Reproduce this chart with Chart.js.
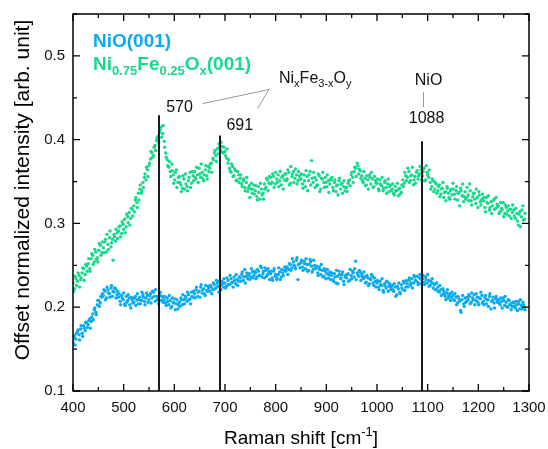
<!DOCTYPE html>
<html>
<head>
<meta charset="utf-8">
<script src="https://cdn.jsdelivr.net/npm/chart.js@4"></script>
<style>
  html, body { margin: 0; padding: 0; background: #fff; }
  #chart { display: block; }
</style>
</head>
<body>
<canvas id="chart" width="548" height="449"></canvas>
<script>
// Raman shift grids (cm-1), two interleaved readings of each spectrum
const ramanShiftA = [
  400,403,406,409,412,415,418,421,424,427,
  430,433,436,439,442,445,448,451,454,457,
  460,463,466,469,472,475,478,481,484,487,
  490,493,496,499,502,505,508,511,514,517,
  520,523,526,529,532,535,538,541,544,547,
  550,553,556,559,562,565,568,571,574,577,
  580,583,586,589,592,595,598,601,604,607,
  610,613,616,619,622,625,628,631,634,637,
  640,643,646,649,652,655,658,661,664,667,
  670,673,676,679,682,685,688,691,694,697,
  700,703,706,709,712,715,718,721,724,727,
  730,733,736,739,742,745,748,751,754,757,
  760,763,766,769,772,775,778,781,784,787,
  790,793,796,799,802,805,808,811,814,817,
  820,823,826,829,832,835,838,841,844,847,
  850,853,856,859,862,865,868,871,874,877,
  880,883,886,889,892,895,898,901,904,907,
  910,913,916,919,922,925,928,931,934,937,
  940,943,946,949,952,955,958,961,964,967,
  970,973,976,979,982,985,988,991,994,997,
  1000,1003,1006,1009,1012,1015,1018,1021,1024,1027,
  1030,1033,1036,1039,1042,1045,1048,1051,1054,1057,
  1060,1063,1066,1069,1072,1075,1078,1081,1084,1087,
  1090,1093,1096,1099,1102,1105,1108,1111,1114,1117,
  1120,1123,1126,1129,1132,1135,1138,1141,1144,1147,
  1150,1153,1156,1159,1162,1165,1168,1171,1174,1177,
  1180,1183,1186,1189,1192,1195,1198,1201,1204,1207,
  1210,1213,1216,1219,1222,1225,1228,1231,1234,1237,
  1240,1243,1246,1249,1252,1255,1258,1261,1264,1267,
  1270,1273,1276,1279,1282,1285,1288,1291
];
const ramanShiftB = [
  401,404,407,410,413,416,419,422,425,428,
  431,434,437,440,443,446,449,452,455,458,
  461,464,467,470,473,476,479,482,485,488,
  491,494,497,500,503,506,509,512,515,518,
  521,524,527,530,533,536,539,542,545,548,
  551,554,557,560,563,566,569,572,575,578,
  581,584,587,590,593,596,599,602,605,608,
  611,614,617,620,623,626,629,632,635,638,
  641,644,647,650,653,656,659,662,665,668,
  671,674,677,680,683,686,689,692,695,698,
  701,704,707,710,713,716,719,722,725,728,
  731,734,737,740,743,746,749,752,755,758,
  761,764,767,770,773,776,779,782,785,788,
  791,794,797,800,803,806,809,812,815,818,
  821,824,827,830,833,836,839,842,845,848,
  851,854,857,860,863,866,869,872,875,878,
  881,884,887,890,893,896,899,902,905,908,
  911,914,917,920,923,926,929,932,935,938,
  941,944,947,950,953,956,959,962,965,968,
  971,974,977,980,983,986,989,992,995,998,
  1001,1004,1007,1010,1013,1016,1019,1022,1025,1028,
  1031,1034,1037,1040,1043,1046,1049,1052,1055,1058,
  1061,1064,1067,1070,1073,1076,1079,1082,1085,1088,
  1091,1094,1097,1100,1103,1106,1109,1112,1115,1118,
  1121,1124,1127,1130,1133,1136,1139,1142,1145,1148,
  1151,1154,1157,1160,1163,1166,1169,1172,1175,1178,
  1181,1184,1187,1190,1193,1196,1199,1202,1205,1208,
  1211,1214,1217,1220,1223,1226,1229,1232,1235,1238,
  1241,1244,1247,1250,1253,1256,1259,1262,1265,1268,
  1271,1274,1277,1280,1283,1286,1289,1292
];

// NiO(001), offset normalized intensity
const nioValuesA = [
  0.158,0.166,0.162,0.171,0.167,0.174,0.169,0.178,0.172,0.181,
  0.179,0.186,0.183,0.192,0.197,0.194,0.203,0.208,0.205,0.212,
  0.214,0.219,0.211,0.221,0.216,0.223,0.213,0.218,0.222,0.215,
  0.212,0.207,0.214,0.209,0.204,0.213,0.208,0.211,0.199,0.209,
  0.206,0.213,0.209,0.204,0.212,0.208,0.215,0.207,0.211,0.214,
  0.209,0.216,0.211,0.218,0.207,0.213,0.210,0.215,0.208,0.212,
  0.209,0.205,0.211,0.203,0.208,0.201,0.206,0.210,0.204,0.198,
  0.206,0.211,0.203,0.209,0.213,0.207,0.215,0.210,0.218,0.212,
  0.216,0.221,0.213,0.219,0.224,0.217,0.222,0.214,0.220,0.225,
  0.219,0.224,0.221,0.227,0.223,0.229,0.218,0.226,0.231,0.224,
  0.229,0.225,0.232,0.227,0.234,0.230,0.236,0.228,0.233,0.231,
  0.235,0.239,0.232,0.245,0.237,0.234,0.240,0.236,0.242,0.238,
  0.241,0.236,0.243,0.238,0.247,0.240,0.235,0.244,0.239,0.242,
  0.240,0.235,0.243,0.237,0.233,0.239,0.242,0.236,0.241,0.244,
  0.243,0.248,0.245,0.251,0.247,0.254,0.249,0.256,0.233,0.252,
  0.253,0.248,0.255,0.246,0.251,0.244,0.257,0.249,0.245,0.250,
  0.246,0.241,0.248,0.239,0.244,0.237,0.243,0.240,0.235,0.242,
  0.238,0.233,0.240,0.229,0.237,0.243,0.234,0.239,0.231,0.236,
  0.235,0.240,0.232,0.238,0.243,0.236,0.255,0.241,0.237,0.242,
  0.239,0.234,0.236,0.230,0.235,0.228,0.233,0.237,0.226,0.231,
  0.229,0.224,0.231,0.226,0.220,0.228,0.223,0.230,0.225,0.221,
  0.226,0.219,0.224,0.215,0.222,0.218,0.227,0.221,0.229,0.224,
  0.228,0.232,0.226,0.234,0.229,0.236,0.231,0.227,0.235,0.233,
  0.234,0.230,0.236,0.229,0.232,0.226,0.229,0.223,0.227,0.221,
  0.224,0.218,0.221,0.215,0.219,0.213,0.217,0.211,0.216,0.212,
  0.214,0.208,0.212,0.205,0.210,0.196,0.209,0.204,0.211,0.207,
  0.209,0.213,0.206,0.211,0.215,0.208,0.212,0.203,0.210,0.214,
  0.207,0.211,0.204,0.209,0.213,0.198,0.208,0.205,0.210,0.206,
  0.209,0.203,0.207,0.211,0.202,0.206,0.200,0.208,0.204,0.201,
  0.205,0.199,0.203,0.207,0.198,0.202,0.206,0.200
];
const nioValuesB = [
  0.163,0.155,0.169,0.173,0.161,0.178,0.165,0.175,0.182,0.176,
  0.184,0.175,0.188,0.185,0.199,0.191,0.208,0.201,0.213,0.216,
  0.221,0.209,0.224,0.217,0.212,0.226,0.219,0.223,0.211,0.219,
  0.216,0.203,0.211,0.217,0.202,0.206,0.215,0.203,0.212,0.205,
  0.211,0.202,0.216,0.209,0.204,0.218,0.212,0.203,0.217,0.206,
  0.214,0.205,0.219,0.213,0.221,0.209,0.204,0.218,0.213,0.206,
  0.213,0.202,0.207,0.214,0.199,0.211,0.205,0.197,0.209,0.203,
  0.201,0.209,0.215,0.204,0.211,0.218,0.209,0.204,0.213,0.219,
  0.211,0.224,0.218,0.212,0.227,0.221,0.216,0.226,0.219,0.223,
  0.226,0.216,0.229,0.222,0.232,0.225,0.231,0.221,0.228,0.234,
  0.223,0.235,0.227,0.238,0.229,0.224,0.232,0.239,0.226,0.236,
  0.231,0.242,0.236,0.229,0.241,0.238,0.233,0.246,0.235,0.243,
  0.234,0.245,0.238,0.249,0.236,0.243,0.247,0.237,0.246,0.233,
  0.243,0.232,0.246,0.239,0.235,0.247,0.233,0.245,0.238,0.248,
  0.246,0.239,0.252,0.244,0.258,0.250,0.246,0.259,0.251,0.247,
  0.256,0.244,0.252,0.258,0.243,0.251,0.254,0.242,0.256,0.247,
  0.249,0.238,0.245,0.251,0.236,0.246,0.234,0.245,0.239,0.233,
  0.241,0.231,0.236,0.244,0.228,0.239,0.235,0.242,0.227,0.238,
  0.239,0.231,0.245,0.234,0.241,0.246,0.233,0.239,0.244,0.232,
  0.236,0.242,0.229,0.238,0.226,0.234,0.239,0.229,0.235,0.224,
  0.232,0.221,0.227,0.234,0.218,0.226,0.231,0.219,0.228,0.224,
  0.221,0.228,0.213,0.225,0.229,0.216,0.223,0.231,0.220,0.232,
  0.224,0.235,0.229,0.223,0.238,0.232,0.237,0.229,0.239,0.228,
  0.238,0.227,0.233,0.239,0.225,0.231,0.234,0.228,0.221,0.229,
  0.219,0.226,0.214,0.222,0.216,0.209,0.221,0.214,0.208,0.218,
  0.209,0.216,0.203,0.213,0.207,0.194,0.214,0.201,0.206,0.212,
  0.215,0.204,0.217,0.209,0.203,0.216,0.206,0.211,0.218,0.205,
  0.203,0.214,0.209,0.201,0.216,0.207,0.212,0.199,0.213,0.209,
  0.205,0.211,0.199,0.208,0.213,0.201,0.209,0.203,0.197,0.206,
  0.201,0.207,0.196,0.204,0.209,0.198,0.203,0.197
];

// Ni0.75Fe0.25Ox(001), offset normalized intensity
const nifeValuesA = [
  0.229,0.222,0.234,0.231,0.238,0.233,0.241,0.246,0.239,0.249,
  0.252,0.246,0.258,0.262,0.254,0.266,0.259,0.268,0.274,0.265,
  0.271,0.278,0.266,0.275,0.283,0.272,0.281,0.287,0.279,0.289,
  0.291,0.297,0.288,0.299,0.305,0.296,0.308,0.313,0.306,0.317,
  0.321,0.328,0.325,0.336,0.341,0.336,0.349,0.355,0.352,0.364,
  0.369,0.377,0.384,0.381,0.393,0.399,0.404,0.409,0.415,0.407,
  0.398,0.384,0.376,0.367,0.362,0.371,0.358,0.352,0.364,0.349,
  0.356,0.346,0.342,0.353,0.359,0.344,0.351,0.361,0.348,0.357,
  0.362,0.353,0.358,0.366,0.355,0.361,0.351,0.364,0.357,0.368,
  0.366,0.372,0.378,0.384,0.381,0.389,0.395,0.388,0.392,0.384,
  0.386,0.378,0.372,0.366,0.361,0.368,0.357,0.363,0.352,0.358,
  0.354,0.347,0.351,0.343,0.349,0.338,0.345,0.341,0.336,0.346,
  0.339,0.332,0.344,0.329,0.341,0.336,0.347,0.343,0.352,0.348,
  0.355,0.349,0.356,0.347,0.353,0.358,0.351,0.346,0.357,0.352,
  0.359,0.353,0.361,0.348,0.356,0.362,0.354,0.358,0.351,0.357,
  0.353,0.347,0.358,0.344,0.356,0.351,0.362,0.375,0.349,0.355,
  0.352,0.346,0.357,0.341,0.353,0.349,0.355,0.344,0.351,0.347,
  0.352,0.343,0.349,0.338,0.346,0.351,0.341,0.348,0.344,0.339,
  0.343,0.348,0.352,0.358,0.355,0.362,0.366,0.372,0.359,0.363,
  0.357,0.349,0.354,0.346,0.352,0.358,0.347,0.353,0.344,0.351,
  0.348,0.341,0.352,0.345,0.339,0.349,0.343,0.347,0.338,0.346,
  0.341,0.336,0.344,0.339,0.333,0.342,0.337,0.352,0.348,0.357,
  0.355,0.362,0.351,0.358,0.346,0.356,0.361,0.353,0.359,0.364,
  0.357,0.366,0.352,0.361,0.355,0.349,0.344,0.351,0.341,0.347,
  0.339,0.346,0.335,0.342,0.331,0.338,0.344,0.336,0.329,0.341,
  0.348,0.335,0.339,0.328,0.337,0.342,0.333,0.326,0.338,0.331,
  0.334,0.347,0.327,0.332,0.336,0.324,0.331,0.338,0.326,0.329,
  0.327,0.319,0.331,0.324,0.316,0.326,0.321,0.329,0.318,0.323,
  0.321,0.314,0.318,0.325,0.312,0.319,0.315,0.309,0.317,0.313,
  0.316,0.306,0.312,0.298,0.314,0.308,0.321,0.305
];
const nifeValuesB = [
  0.219,0.237,0.226,0.241,0.224,0.235,0.247,0.232,0.251,0.243,
  0.258,0.243,0.264,0.251,0.269,0.257,0.254,0.276,0.262,0.278,
  0.265,0.281,0.287,0.269,0.291,0.277,0.256,0.284,0.293,0.282,
  0.296,0.284,0.302,0.293,0.289,0.311,0.301,0.298,0.318,0.309,
  0.314,0.331,0.319,0.328,0.346,0.339,0.343,0.359,0.367,0.356,
  0.372,0.386,0.379,0.391,0.387,0.402,0.397,0.412,0.403,0.417,
  0.391,0.379,0.369,0.374,0.356,0.363,0.348,0.361,0.343,0.355,
  0.349,0.338,0.357,0.341,0.347,0.339,0.355,0.343,0.362,0.351,
  0.355,0.367,0.349,0.359,0.371,0.354,0.358,0.369,0.353,0.362,
  0.371,0.361,0.376,0.387,0.374,0.383,0.391,0.397,0.385,0.391,
  0.381,0.389,0.376,0.363,0.371,0.356,0.365,0.351,0.362,0.349,
  0.358,0.344,0.353,0.339,0.355,0.342,0.331,0.348,0.341,0.335,
  0.345,0.328,0.337,0.348,0.334,0.329,0.341,0.354,0.339,0.356,
  0.347,0.359,0.343,0.361,0.349,0.344,0.362,0.355,0.341,0.359,
  0.351,0.364,0.346,0.368,0.359,0.349,0.365,0.347,0.362,0.353,
  0.359,0.342,0.351,0.363,0.339,0.358,0.346,0.354,0.361,0.343,
  0.345,0.359,0.338,0.354,0.361,0.343,0.349,0.358,0.337,0.353,
  0.355,0.339,0.352,0.345,0.334,0.354,0.347,0.336,0.351,0.343,
  0.338,0.351,0.345,0.361,0.349,0.367,0.356,0.369,0.365,0.354,
  0.351,0.362,0.345,0.357,0.341,0.355,0.361,0.343,0.356,0.348,
  0.353,0.339,0.347,0.355,0.342,0.351,0.336,0.353,0.344,0.339,
  0.347,0.334,0.339,0.348,0.341,0.335,0.346,0.344,0.361,0.351,
  0.366,0.349,0.357,0.367,0.352,0.348,0.363,0.357,0.368,0.352,
  0.362,0.351,0.369,0.358,0.364,0.341,0.353,0.338,0.349,0.336,
  0.344,0.332,0.341,0.349,0.337,0.327,0.342,0.331,0.339,0.334,
  0.341,0.329,0.344,0.336,0.321,0.339,0.347,0.332,0.329,0.343,
  0.327,0.339,0.322,0.336,0.329,0.341,0.319,0.334,0.322,0.335,
  0.331,0.314,0.325,0.333,0.319,0.312,0.327,0.317,0.331,0.320,
  0.312,0.325,0.316,0.308,0.322,0.311,0.321,0.317,0.306,0.322,
  0.309,0.318,0.303,0.311,0.296,0.316,0.304,0.312
];

// marker lines and their upper ends
const peakPositions = [570, 691, 1088];
const peakTops = [0.429, 0.405, 0.398];
const peakLabels = ['570', '691', '1088'];

const xTicks = [400, 500, 600, 700, 800, 900, 1000, 1100, 1200, 1300];
const xMinorTicks = [450, 550, 650, 750, 850, 950, 1050, 1150, 1250];
const yTicks = [0.1, 0.2, 0.3, 0.4, 0.5];
const yMinorTicks = [0.15, 0.25, 0.35, 0.45, 0.55];

const BLUE = '#0aaaf0';
const GREEN = '#16d98a';
const FONT = "'Liberation Sans', Arial, sans-serif";

function toPoints(xa, ya, xb, yb) {
    const pts = ya.map((y, i) => ({ x: xa[i], y: y }));
    yb.forEach((y, i) => pts.push({ x: xb[i], y: y }));
    return pts;
}

// draws text runs, some as subscripts / superscripts
function drawRuns(ctx, runs, x, y, size, weight, color) {
    ctx.fillStyle = color;
    ctx.textBaseline = 'alphabetic';
    ctx.textAlign = 'left';
    let cx = x;
    runs.forEach(r => {
        const s = r.sub || r.sup ? Math.round(size * 0.68) : size;
        ctx.font = `${weight} ${s}px ${FONT}`;
        const dy = r.sub ? size * 0.28 : (r.sup ? -size * 0.42 : 0);
        ctx.fillText(r.t, cx, y + dy);
        cx += ctx.measureText(r.t).width;
    });
    return cx - x;
}

function runsWidth(ctx, runs, size, weight) {
    let w = 0;
    runs.forEach(r => {
        const s = r.sub || r.sup ? Math.round(size * 0.68) : size;
        ctx.font = `${weight} ${s}px ${FONT}`;
        w += ctx.measureText(r.t).width;
    });
    return w;
}

const framePlugin = {
    id: 'frame',
    afterDatasetsDraw(chart) {
        const { ctx, chartArea: a, scales: { x, y } } = chart;
        ctx.save();

        // reference lines
        ctx.strokeStyle = '#1a1a1a';
        ctx.lineWidth = 2;
        peakPositions.forEach((p, i) => {
            const px = Math.round(x.getPixelForValue(p));
            ctx.beginPath();
            ctx.moveTo(px, y.getPixelForValue(peakTops[i]));
            ctx.lineTo(px, a.bottom);
            ctx.stroke();
        });

        // frame
        ctx.strokeStyle = '#000';
        ctx.lineWidth = 1.5;
        ctx.strokeRect(a.left, a.top, a.right - a.left, a.bottom - a.top);

        // inward ticks on all four sides
        ctx.lineWidth = 1.3;
        const tick = (vals, len) => {
            vals.forEach(v => {
                const px = x.getPixelForValue(v);
                ctx.beginPath();
                ctx.moveTo(px, a.bottom); ctx.lineTo(px, a.bottom - len);
                ctx.moveTo(px, a.top); ctx.lineTo(px, a.top + len);
                ctx.stroke();
            });
        };
        const ytick = (vals, len) => {
            vals.forEach(v => {
                const py = y.getPixelForValue(v);
                ctx.beginPath();
                ctx.moveTo(a.left, py); ctx.lineTo(a.left + len, py);
                ctx.moveTo(a.right, py); ctx.lineTo(a.right - len, py);
                ctx.stroke();
            });
        };
        tick(xTicks, 7);
        tick(xMinorTicks, 4);
        ytick(yTicks, 7);
        ytick(yMinorTicks, 4);

        // axis titles
        ctx.fillStyle = '#000';
        const xt = [{ t: 'Raman shift [cm' }, { t: '-1', sup: true }, { t: ']' }];
        const xw = runsWidth(ctx, xt, 19, 'normal');
        drawRuns(ctx, xt, (a.left + a.right) / 2 - xw / 2, 444, 19, 'normal', '#000');

        ctx.save();
        ctx.translate(29, 190);
        ctx.rotate(-Math.PI / 2);
        ctx.font = `21px ${FONT}`;
        ctx.fillStyle = '#000';
        ctx.textAlign = 'center';
        ctx.textBaseline = 'alphabetic';
        ctx.fillText('Offset normalized intensity [arb. unit]', 0, 0);
        ctx.restore();

        // legend
        drawRuns(ctx, [{ t: 'NiO(001)' }], 93, 47, 19, 'bold', BLUE);
        drawRuns(ctx, [
            { t: 'Ni' }, { t: '0.75', sub: true }, { t: 'Fe' }, { t: '0.25', sub: true },
            { t: 'O' }, { t: 'x', sub: true }, { t: '(001)' }
        ], 93, 70, 19, 'bold', GREEN);

        // peak labels
        ctx.font = `16px ${FONT}`;
        ctx.fillStyle = '#111';
        ctx.textBaseline = 'middle';
        ctx.textAlign = 'left';
        ctx.fillText(peakLabels[0], x.getPixelForValue(570) + 7, 108);
        ctx.fillText(peakLabels[1], x.getPixelForValue(691) + 6, 126);
        ctx.textAlign = 'center';
        ctx.fillText(peakLabels[2], x.getPixelForValue(1088) + 5, 119);
        ctx.fillText('NiO', x.getPixelForValue(1088) + 7, 81);

        drawRuns(ctx, [
            { t: 'Ni' }, { t: 'x', sub: true }, { t: 'Fe' }, { t: '3-x', sub: true },
            { t: 'O' }, { t: 'y', sub: true }
        ], 279, 83, 16, 'normal', '#111');

        // connector lines
        ctx.strokeStyle = '#999';
        ctx.lineWidth = 1;
        ctx.beginPath();
        ctx.moveTo(203, 103.5);
        ctx.lineTo(269, 89.5);
        ctx.lineTo(257.5, 108.5);
        ctx.moveTo(423.5, 92);
        ctx.lineTo(423.5, 107);
        ctx.stroke();

        ctx.restore();
    }
};

const ctx = document.getElementById('chart').getContext('2d');

new Chart(ctx, {
    type: 'scatter',
    data: {
        datasets: [
            {
                label: 'NiO(001)',
                data: toPoints(ramanShiftA, nioValuesA, ramanShiftB, nioValuesB),
                backgroundColor: BLUE,
                borderWidth: 0,
                pointRadius: 1.7
            },
            {
                label: 'Ni0.75Fe0.25Ox(001)',
                data: toPoints(ramanShiftA, nifeValuesA, ramanShiftB, nifeValuesB),
                backgroundColor: GREEN,
                borderWidth: 0,
                pointRadius: 1.7
            }
        ]
    },
    options: {
        responsive: false,
        animation: false,
        devicePixelRatio: 1,
        layout: { padding: { top: 14, right: 19, left: 0, bottom: 0 } },
        plugins: { legend: { display: false }, tooltip: { enabled: false } },
        scales: {
            x: {
                type: 'linear',
                min: 400,
                max: 1300,
                afterBuildTicks: s => { s.ticks = xTicks.map(v => ({ value: v })); },
                afterFit: s => {
                    s.height = 58;
                    s.paddingLeft = 0;
                    s.paddingRight = 0;
                },
                grid: { display: false, drawTicks: false },
                border: { display: false },
                ticks: {
                    padding: 8,
                    maxRotation: 0,
                    color: '#111',
                    font: { family: FONT, size: 15 },
                    callback: v => String(v)
                }
            },
            y: {
                type: 'linear',
                min: 0.1,
                max: 0.55,
                afterBuildTicks: s => { s.ticks = yTicks.map(v => ({ value: v })); },
                afterFit: s => {
                    s.width = 73;
                    s.paddingTop = 0;
                    s.paddingBottom = 0;
                },
                grid: { display: false, drawTicks: false },
                border: { display: false },
                ticks: {
                    padding: 8,
                    color: '#111',
                    font: { family: FONT, size: 15 },
                    callback: v => v.toFixed(1)
                }
            }
        }
    },
    plugins: [framePlugin]
});
</script>
</body>
</html>
